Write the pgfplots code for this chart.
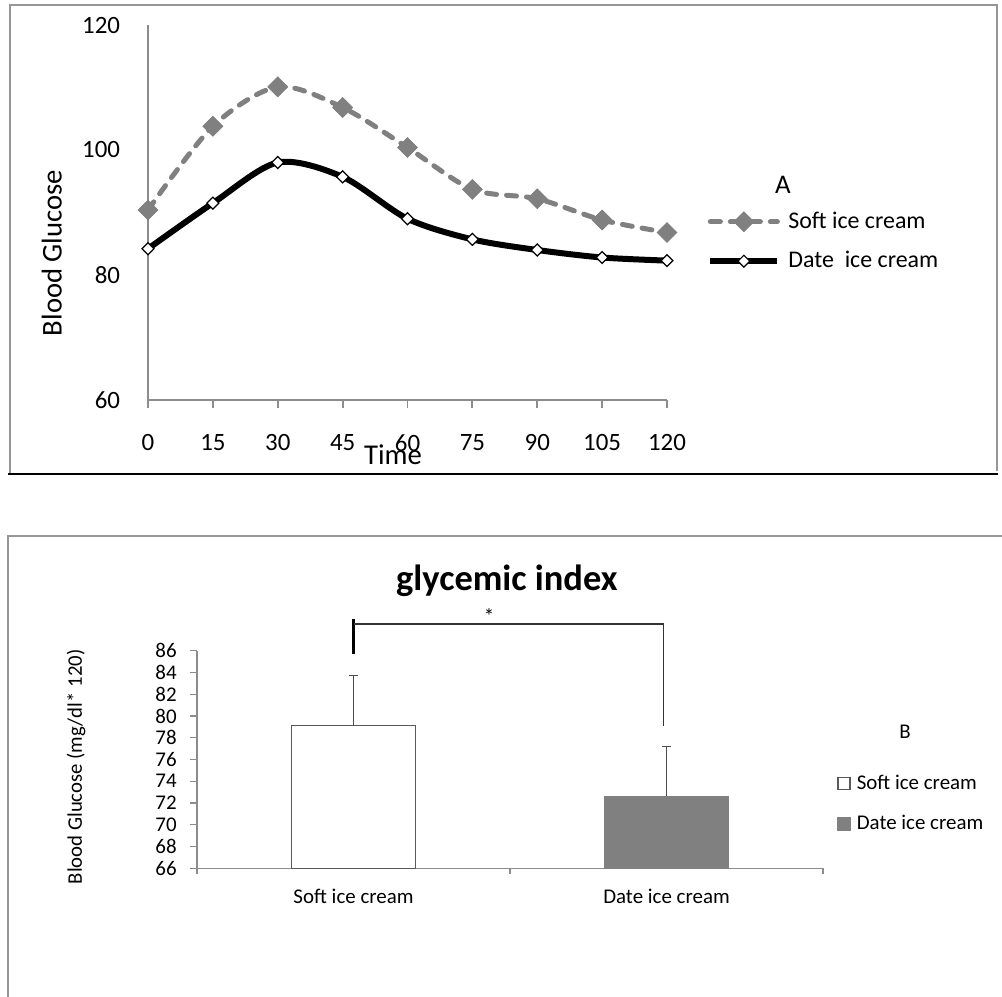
\documentclass[border=0pt]{standalone}
\usepackage{fontspec}
\setmainfont{Carlito}
\usepackage{pgfplots}
\pgfplotsset{compat=1.18}

\definecolor{softgray}{RGB}{128,128,128}
\definecolor{framegray}{RGB}{150,150,150}
\definecolor{axgray}{RGB}{140,140,140}

\pgfplotsset{
    sqlegend/.style={legend image code/.code={\draw[##1] (0bp,-3bp) rectangle (6bp,3bp);}},
    linelegend/.style={legend image code/.code={\draw[mark repeat=2,mark phase=2,##1]
        plot coordinates {(0bp,0bp) (16.75bp,0bp) (33.5bp,0bp)};}},
}

\begin{document}
\begin{tikzpicture}
\useasboundingbox (0,0) rectangle (501bp,498.5bp);

% panel frames
\draw[framegray, line width=0.9bp] (5bp,261.5bp) -- (5bp,496bp) -- (498.5bp,496bp) -- (498.5bp,263bp);
\draw[black, line width=1.3bp] (4bp,261.5bp) -- (499bp,261.5bp);
\draw[framegray, line width=0.9bp] (4bp,0bp) -- (4bp,230.5bp) -- (501bp,230.5bp);

% ---- panel A ----
\begin{axis}[
    at={(74bp,298.5bp)}, anchor=south west,
    scale only axis, width=259.5bp, height=187.5bp,
    xmin=0, xmax=120, ymin=60, ymax=120,
    xtick={0,15,...,120}, ytick={60,80,100,120},
    axis x line*=bottom, axis y line*=left,
    axis line style={-, draw=axgray, line width=0.9bp},
    tick align=outside, major tick length=4bp,
    xtick style={draw=axgray, line width=0.9bp},
    ytick style={draw=none},
    /pgf/number format/assume math mode=true,
    tick label style={font=\fontsize{12.5}{14}\selectfont, inner sep=0pt},
    xticklabel style={anchor=center, yshift=-17.5bp},
    yticklabel style={anchor=east},
    yticklabel shift=9.75bp,
    xlabel={Time}, ylabel={Blood Glucose},
    label style={font=\fontsize{14.4}{16}\selectfont},
    xlabel style={at={(rel axis cs:0.472,-0.1733)}, anchor=base},
    ylabel style={at={(rel axis cs:-0.1663,0.392)}, anchor=base},
    clip=false,
    legend style={at={(rel axis cs:1.077,0.4227)}, anchor=west, draw=none, fill=none,
        inner sep=0pt, row sep=8bp, font=\fontsize{12}{14}\selectfont,
        nodes={inner sep=1bp},
        /tikz/every odd column/.append style={column sep=3bp}},
    legend cell align=left,
    linelegend,
]
\addplot[smooth, softgray, line width=2.5bp, line cap=round, dash pattern=on 5bp off 5bp,
    mark=square*, mark size=3.5bp, mark options={solid, rotate=45, fill=softgray, draw=softgray, line width=0.4bp}]
coordinates {(0,90.4) (15,103.8) (30,110.1) (45,106.8) (60,100.4) (75,93.7) (90,92.2) (105,88.8) (120,86.8)};
\addlegendentry{Soft ice cream}
\addplot[smooth, black, line width=3bp,
    mark=square*, mark size=2.1bp, mark options={rotate=45, fill=white, draw=black, line width=0.6bp}]
coordinates {(0,84.2) (15,91.5) (30,98.0) (45,95.7) (60,89.0) (75,85.7) (90,84.0) (105,82.8) (120,82.3)};
\addlegendentry{Date\ \ ice cream}
\node[font=\fontsize{13.5}{15}\selectfont] at (rel axis cs:1.2235,0.573) {A};
\end{axis}

% ---- panel B ----
\begin{axis}[
    at={(98.5bp,64.35bp)}, anchor=south west,
    scale only axis, width=313bp, height=108.8bp,
    xmin=-0.5, xmax=1.5, ymin=66, ymax=86,
    ytick={66,68,...,86},
    xtick={0,1}, xticklabels={Soft ice cream, Date ice cream},
    minor xtick={-0.5,0.5,1.5},
    axis x line*=bottom, axis y line*=left,
    axis line style={-, draw=axgray, line width=0.7bp},
    tick align=outside, major tick length=3.5bp, minor tick length=3bp,
    xtick style={draw=none},
    minor x tick style={draw=axgray, line width=0.7bp},
    ytick style={draw=axgray, line width=0.7bp},
    /pgf/number format/assume math mode=true,
    tick label style={font=\fontsize{10.5}{12}\selectfont, inner sep=0pt},
    xticklabel style={anchor=center, yshift=-10.4bp},
    yticklabel style={anchor=east},
    yticklabel shift=6.5bp,
    ylabel={Blood Glucose (mg/dl* 120)},
    ylabel style={font=\fontsize{10.4}{12}\selectfont, at={(rel axis cs:-0.184,0.466)}, anchor=base},
    title={glycemic index},
    title style={font=\bfseries\fontsize{18.3}{22}\selectfont, at={(rel axis cs:0.495,1.224)}, anchor=base},
    clip mode=individual,
    legend style={at={(rel axis cs:1.0224,0.297)}, anchor=west, draw=none, fill=none,
        inner sep=0pt, row sep=9.5bp, font=\fontsize{10.5}{12}\selectfont,
        nodes={inner sep=1bp},
        /tikz/every odd column/.append style={column sep=2bp}},
    legend cell align=left,
]
\addplot[ybar, bar width=62bp, bar shift=0pt, fill=white, draw=black!65, line width=0.7bp,
    sqlegend,
    error bars/.cd, y dir=plus, y explicit,
    error bar style={draw=black!70, line width=0.6bp},
    error mark options={rotate=90, mark size=2.2bp, draw=black!70, line width=0.6bp}]
coordinates {(0,79.1) +- (0,4.6)};
\addlegendentry{Soft ice cream}
\addplot[ybar, bar width=62bp, bar shift=0pt, fill=softgray, draw=softgray, line width=0.7bp,
    sqlegend,
    error bars/.cd, y dir=plus, y explicit,
    error bar style={draw=black!70, line width=0.6bp},
    error mark options={rotate=90, mark size=2.2bp, draw=black!70, line width=0.6bp}]
coordinates {(1,72.6) +- (0,4.6)};
\addlegendentry{Date ice cream}
% significance bracket
\draw[black, line width=1.4bp] (axis cs:0,88.9) -- (axis cs:0,85.7);
\draw[black!80, line width=0.8bp] (axis cs:0,88.45) -- (axis cs:0.99,88.45) -- (axis cs:0.99,79.1);
\node[font=\fontsize{10.5}{12}\selectfont] at (axis cs:0.433,89.2) {*};
\node[font=\fontsize{10.5}{12}\selectfont] at (rel axis cs:1.131,0.626) {B};
\end{axis}
\end{tikzpicture}
\end{document}
